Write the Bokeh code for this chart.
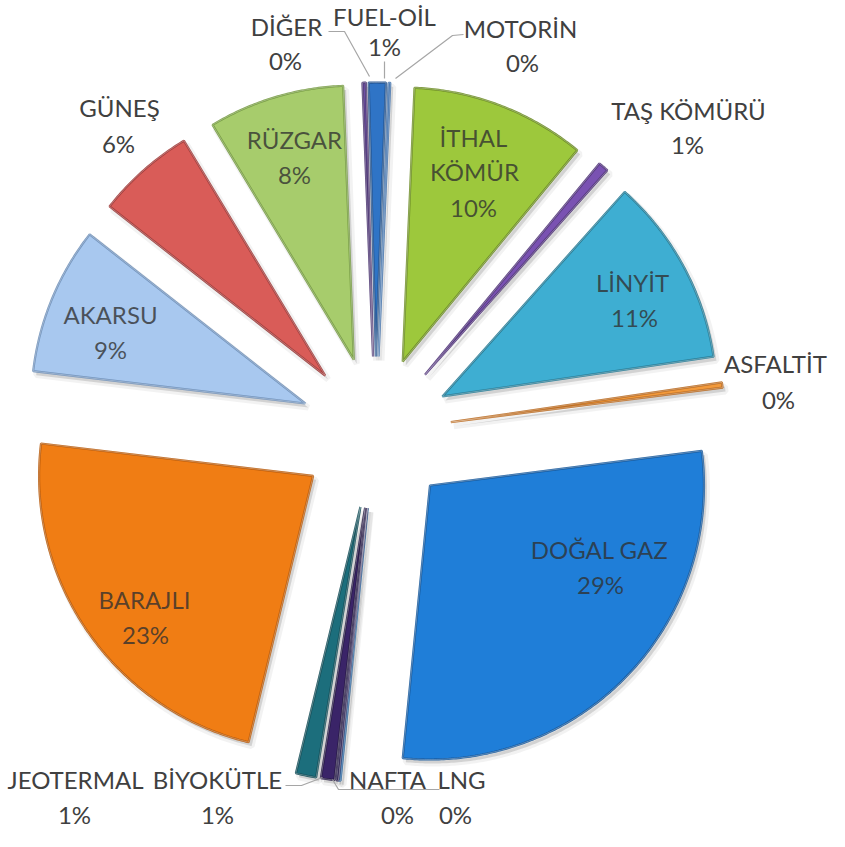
import numpy as np
from bokeh.plotting import figure
from bokeh.models import Range1d, ColumnDataSource
from bokeh.embed import file_html
from bokeh.resources import INLINE
from bokeh.core.properties import value

# ---------------- data ----------------
categories = ["FUEL-OİL", "MOTORİN", "İTHAL KÖMÜR", "TAŞ KÖMÜRÜ", "LİNYİT", "ASFALTİT",
              "DOĞAL GAZ", "LNG", "NAFTA", "BİYOKÜTLE", "JEOTERMAL", "BARAJLI",
              "AKARSU", "GÜNEŞ", "RÜZGAR", "DİĞER"]
shares = [1.0, 0.1, 10.3, 0.6, 11.1, 0.3, 28.6, 0.1, 0.1, 0.8, 1.2, 23.1, 8.7, 5.8, 8.0, 0.2]
colors = ["#2f74c6", "#5d9be0", "#9dc83c", "#7a52b2", "#3eaed2", "#f29a3c",
          "#1f7ed8", "#4a8fd6", "#3b2a72", "#3a2468", "#1c6e7c", "#f07d14",
          "#a8c8ef", "#d95c58", "#a7cc6c", "#6e4fa6"]
edges = ["#1f4f8a", "#3d6ea8", "#6b8c24", "#52367a", "#267a94", "#b8681e",
         "#14579a", "#2f679e", "#241848", "#221640", "#104a54", "#b85a0a",
         "#6e8fb8", "#a03a38", "#749a40", "#48326e"]
FIRST_SLICE_ANGLE = 91.5   # degrees, counter-clockwise from the x axis

# label text layout (reference-picture pixel positions of each label line centre)
label_lines = {
    "FUEL-OİL": [("FUEL-OİL", 392, 24), ("{p}", 392, 54)],
    "MOTORİN": [("MOTORİN", 528, 36), ("{p}", 530, 70)],
    "İTHAL KÖMÜR": [("İTHAL", 481, 145), ("KÖMÜR", 482, 179), ("{p}", 481, 215)],
    "TAŞ KÖMÜRÜ": [("TAŞ KÖMÜRÜ", 696, 118), ("{p}", 695, 152)],
    "LİNYİT": [("LİNYİT", 640, 290), ("{p}", 642, 325)],
    "ASFALTİT": [("ASFALTİT", 783, 371), ("{p}", 786, 407)],
    "DOĞAL GAZ": [("DOĞAL GAZ", 607, 557), ("{p}", 608, 592)],
    "LNG": [("LNG", 469, 787), ("{p}", 463, 822)],
    "NAFTA": [("NAFTA", 395, 787), ("{p}", 405, 822)],
    "BİYOKÜTLE": [("BİYOKÜTLE", 225, 787), ("{p}", 225, 822)],
    "JEOTERMAL": [("JEOTERMAL", 83, 787), ("{p}", 82, 822)],
    "BARAJLI": [("BARAJLI", 152, 607), ("{p}", 153, 642)],
    "AKARSU": [("AKARSU", 118, 322), ("{p}", 118, 357)],
    "GÜNEŞ": [("GÜNEŞ", 127, 115), ("{p}", 126, 151)],
    "RÜZGAR": [("RÜZGAR", 302, 147), ("{p}", 302, 182)],
    "DİĞER": [("DİĞER", 294, 34), ("{p}", 293, 68)],
}
inside = {"İTHAL KÖMÜR", "LİNYİT", "DOĞAL GAZ", "BARAJLI", "AKARSU", "RÜZGAR"}

leaders = [
    [(336, 39), (352, 39), (377, 84)],
    [(392, 69), (392, 86)],
    [(471, 42), (460, 43), (403, 86)],
    [(293, 793), (309, 793), (330, 785)],
    [(447, 797), (346, 797), (340, 787)],
]

# ---------------- geometry ----------------
PAGE_H = 847
def Y(py):
    return PAGE_H - py

CX, CY = 383.0, Y(440.0)
EXPLODE = 76.0
R = 274.0

W, H = 829, 831
p = figure(width=W, height=H, x_range=Range1d(8, 837), y_range=Range1d(8, 839),
           output_backend="svg", toolbar_location=None, min_border=0,
           x_axis_type=None, y_axis_type=None)
p.grid.visible = False
p.outline_line_color = None
p.background_fill_color = "white"

vals = np.array(shares, dtype=float)
frac = vals / vals.sum()
ends = FIRST_SLICE_ANGLE - np.cumsum(frac) * 360.0
starts = ends + frac * 360.0

xs, ys, sxs, sys_ = [], [], [], []
for a0, a1 in zip(starts, ends):
    mid = np.radians((a0 + a1) / 2.0)
    tx = CX + EXPLODE * np.cos(mid)
    ty = CY + EXPLODE * np.sin(mid)
    n = max(3, int(abs(a0 - a1) * 2))
    ang = np.radians(np.linspace(a0, a1, n))
    px = np.concatenate([[tx], tx + R * np.cos(ang)])
    py = np.concatenate([[ty], ty + R * np.sin(ang)])
    xs.append(px)
    ys.append(py)
    sxs.append(px + 3)
    sys_.append(py - 4)

# soft shadows
p.patches(sxs, sys_, fill_color="#000000", fill_alpha=0.07, line_color="#000000",
          line_alpha=0.05, line_width=6)
p.patches(sxs, sys_, fill_color="#000000", fill_alpha=0.06, line_color=None)

src = ColumnDataSource(dict(xs=xs, ys=ys, fill=colors, edge=edges))
p.patches("xs", "ys", source=src, fill_color="fill", line_color="edge", line_width=2.2,
          line_alpha=0.9)
# bevel highlight
p.patches("xs", "ys", source=src, fill_alpha=0, line_color="white", line_width=0.8,
          line_alpha=0.35)

# leader lines
for pts in leaders:
    p.line([q[0] for q in pts], [Y(q[1]) for q in pts], line_color="#a6a6a6", line_width=1.2)

# labels
tx_, ty_, tt_, tc_, ta_ = [], [], [], [], []
for cat, share in zip(categories, shares):
    pct = f"{int(round(share))}%"
    for txt, lx, ly in label_lines[cat]:
        tx_.append(lx)
        ty_.append(Y(ly))
        tt_.append(txt.replace("{p}", pct))
        if cat in inside:
            tc_.append("#303030")
            ta_.append(0.78)
        else:
            tc_.append("#404040")
            ta_.append(1.0)

p.text(x=tx_, y=ty_, text=tt_, text_color=tc_, text_alpha=ta_,
       text_font=value("Lato"), text_font_size="24px",
       text_align="center", text_baseline="middle")

open("out.html", "w").write(file_html(p, INLINE))
